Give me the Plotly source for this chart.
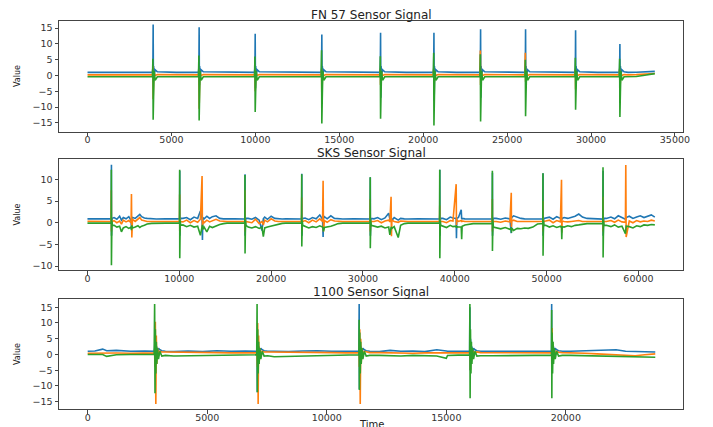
import plotly.graph_objects as go

# ---------------- FN 57 ----------------
fn57_time = [0, 1200, 2500, 3600,
    3870, 3895, 3910, 3925, 3940, 3970, 4030, 4160, 5300,
    6610, 6635, 6650, 6665, 6680, 6710, 6770, 6900, 8300,
    9950, 9975, 9990, 10005, 10020, 10050, 10110, 10240, 12000,
    13920, 13945, 13960, 13975, 13990, 14020, 14080, 14210, 15700,
    17420, 17445, 17460, 17475, 17490, 17520, 17580, 17710, 19000,
    20600, 20625, 20640, 20655, 20670, 20700, 20760, 20890, 22000,
    23380, 23405, 23420, 23435, 23450, 23480, 23540, 23670, 24800,
    26060, 26085, 26100, 26115, 26130, 26160, 26220, 26350, 27600,
    29040, 29065, 29080, 29095, 29110, 29140, 29200, 29330, 30400,
    31680, 31705, 31720, 31735, 31750, 31780, 31840, 31970,
    32200, 32700, 33200, 33800]
fn57_blue = [1.0, 0.95, 1.05, 1.0,
    1.0, 2.5, 16.1, -2.0, 3.0, 0.3, 1.8, 1.2, 1.0,
    1.0, 2.5, 15.3, -3.0, 3.0, 0.3, 1.8, 1.2, 1.0,
    1.0, 2.5, 13.2, -4.0, 3.0, 0.3, 1.8, 1.2, 1.0,
    1.0, 2.5, 13.0, -3.0, 3.0, 0.3, 1.8, 1.2, 1.0,
    1.0, 2.5, 13.5, -7.0, 3.0, 0.3, 1.8, 1.2, 1.0,
    1.0, 2.5, 13.5, -8.0, 3.0, 0.3, 1.8, 1.2, 1.0,
    1.0, 2.5, 14.6, -7.0, 3.0, 0.3, 1.8, 1.2, 1.0,
    1.0, 2.5, 14.6, -3.0, 3.0, 0.3, 1.8, 1.2, 1.0,
    1.0, 2.5, 14.3, -3.0, 3.0, 0.3, 1.8, 1.2, 1.0,
    1.0, 2.5, 10.0, -5.0, 3.0, 0.3, 1.8, 1.2,
    1.0, 1.05, 1.1, 1.3]
fn57_orange = [0.2, 0.25, 0.2, 0.2,
    0.2, 3.0, -7.5, 1.8, -1.5, 0.9, 0.0, 0.3, 0.2,
    0.2, 2.0, -10.5, 1.2, -2.0, 0.9, 0.0, 0.3, 0.2,
    0.2, 2.0, -5.0, 1.2, -1.5, 0.9, 0.0, 0.3, 0.2,
    0.2, 2.0, -7.0, 1.2, -1.5, 0.9, 0.0, 0.3, 0.2,
    0.2, 2.0, -3.0, 1.2, -1.5, 0.9, 0.0, 0.3, 0.2,
    0.2, 2.0, -3.0, 1.2, -1.5, 0.9, 0.0, 0.3, 0.2,
    0.2, 7.9, -3.0, 4.7, -1.5, 0.9, 0.0, 0.3, 0.2,
    0.2, 7.2, -2.0, 4.3, -1.5, 0.9, 0.0, 0.3, 0.2,
    0.2, 2.0, -4.4, 1.2, -1.5, 0.9, 0.0, 0.3, 0.2,
    0.2, 2.0, -5.0, 1.2, -1.5, 0.9, 0.0, 0.3,
    0.2, 0.3, 0.45, 0.65]
fn57_green = [-0.4, -0.45, -0.4, -0.4,
    -0.4, 5.3, -14.0, 3.7, -5.6, 1.5, -1.5, -0.4, -0.4,
    -0.4, 6.3, -14.2, 4.4, -5.7, 1.5, -1.5, -0.4, -0.4,
    -0.4, 6.0, -11.5, 4.2, -4.6, 1.5, -1.5, -0.4, -0.4,
    -0.4, 8.0, -15.2, 5.6, -6.1, 1.5, -1.5, -0.4, -0.4,
    -0.4, 6.1, -13.7, 4.3, -5.5, 1.5, -1.5, -0.4, -0.4,
    -0.4, 7.2, -15.8, 5.0, -6.3, 1.5, -1.5, -0.4, -0.4,
    -0.4, 6.7, -14.5, 4.7, -5.8, 1.5, -1.5, -0.4, -0.4,
    -0.4, 5.0, -12.9, 3.5, -5.2, 1.5, -1.5, -0.4, -0.4,
    -0.4, 5.6, -10.8, 3.9, -4.3, 1.5, -1.5, -0.4, -0.4,
    -0.4, 5.3, -13.1, 3.7, -5.2, 1.5, -1.5, -0.4,
    -0.4, -0.3, 0.1, 0.6]

# ---------------- SKS ----------------
sks_time = [0, 800, 1600, 2400, 2580,
    2600, 2610, 2620, 2635, 2660, 2710,
    2900, 3200, 3500, 3700, 3900, 4200, 4500, 4750, 4790, 4830, 4900, 5200, 5500, 5700, 5900, 6200, 6500, 7000, 7500,
    8500, 9500, 10020,
    10040, 10050, 10060, 10075, 10100, 10150,
    10400, 10800, 11200, 11600, 12000, 12300, 12480, 12520, 12560, 12700, 13000, 13300, 13600, 14000, 14400, 14800, 15200,
    16000, 17130,
    17150, 17160, 17170, 17185, 17210, 17260,
    17500, 17900, 18300, 18700, 19000, 19150, 19300, 19600, 20000, 20400, 20800, 21200, 21600,
    22500, 23310,
    23330, 23340, 23350, 23365, 23390, 23440,
    23700, 24100, 24500, 24900, 25300, 25600, 25660, 25700, 25800, 26100, 26500, 26900, 27300, 27800,
    29000, 30770,
    30790, 30800, 30810, 30825, 30850, 30900,
    31200, 31600, 32000, 32400, 32800, 32930, 33060, 33100, 33150, 33400, 33840, 34100, 34500, 34900,
    36000, 37500, 38340,
    38360, 38370, 38380, 38395, 38420, 38470,
    38700, 39100, 39500, 39800, 40150, 40180, 40220, 40400, 40700, 40750, 40800, 41100, 41500, 42000,
    43000, 44070,
    44090, 44100, 44110, 44125, 44150, 44200,
    44500, 45000, 45500, 46000, 46150, 46170, 46200, 46400, 46800, 47200, 47600, 48000, 48500, 49000, 49580,
    49600, 49610, 49620, 49635, 49660, 49710,
    49900, 50300, 50700, 51100, 51500, 51620, 51650, 51690, 51900, 52300, 52700, 53100, 53500, 53900, 54400, 55000,
    56120,
    56140, 56150, 56160, 56175, 56200, 56250,
    56500, 57000, 57400, 57800, 58200, 58580, 58620, 58660, 59000, 59400, 59800, 60200, 60600, 61000, 61400, 61780]
sks_blue = [0.9, 0.85, 0.9, 0.85, 0.9,
    2.0, 13.4, -3.0, 1.5, 0.5, 1.0,
    1.2, 0.8, 1.5, 0.6, 1.2, 0.9, 1.4, 0.5, -1.5, 1.0, 1.2, 1.0, 1.6, 1.9, 1.4, 1.1, 1.0, 0.9, 0.85,
    0.9, 0.85, 0.9,
    2.0, 12.0, -3.0, 1.5, 0.5, 1.0,
    1.0, 1.2, 0.7, 1.3, 1.0, 2.7, 1.0, -4.0, 1.2, 0.9, 1.5, 1.0, 1.4, 1.6, 1.0, 0.9, 0.85,
    0.9, 0.85,
    2.0, 11.2, -3.0, 1.5, 0.5, 1.0,
    1.0, 0.8, 1.2, 0.6, -1.8, 0.9, 1.3, 0.8, 1.5, 1.0, 0.9, 0.85, 0.9,
    0.9, 0.85,
    2.0, 11.3, -3.0, 1.5, 0.5, 1.0,
    1.1, 0.7, 1.2, 0.9, 1.8, 0.8, -3.3, 1.0, 1.4, 0.9, 1.6, 1.0, 0.9, 0.85,
    0.9, 0.85,
    2.0, 10.5, -3.0, 1.5, 0.5, 1.0,
    0.9, 1.2, 0.7, 1.1, 2.2, 0.8, 1.0, 1.0, 0.5, 1.2, 0.6, 1.0, 0.9, 0.85,
    0.9, 0.9, 0.85,
    2.0, 12.2, -3.0, 1.5, 0.5, 1.0,
    1.0, 0.7, 1.3, 1.1, 1.0, -3.6, 1.0, 1.2, 3.0, 0.8, 1.0, 0.9, 0.9, 0.85,
    0.9, 0.85,
    2.0, 11.5, -3.0, 1.5, 0.5, 1.0,
    1.0, 0.8, 1.1, 0.9, -2.4, 1.0, 1.2, 1.6, 1.3, 1.0, 0.9, 0.85, 0.9, 0.85, 0.9,
    2.0, 11.4, -3.0, 1.5, 0.5, 1.0,
    1.1, 1.3, 0.8, 1.4, 1.0, 0.9, 0.8, 1.0, 1.2, 1.0, 1.3, 1.5, 2.0, 1.3, 1.0, 0.9,
    0.85,
    2.0, 12.0, -3.0, 1.5, 0.5, 1.0,
    1.0, 1.3, 0.9, 1.6, 1.1, 0.8, 0.9, 1.2, 1.5, 1.0, 1.3, 1.6, 1.2, 1.5, 1.8, 1.3]
sks_orange = [0.35, 0.3, 0.35, 0.3, 0.3,
    7.5, -2.0, 2.0, -1.0, 0.5, 0.3,
    0.5, 0.0, 0.4, -0.3, 0.6, 0.2, 0.5, 0.0, 6.6, -3.4, 0.8, 0.3, 0.8, 1.2, 0.6, 0.4, 0.3, 0.3, 0.3,
    0.3, 0.35, 0.3,
    6.5, -2.0, 2.0, -1.0, 0.5, 0.3,
    0.2, 0.6, 0.0, 0.5, 0.1, 0.8, 10.8, -1.5, 0.5, 0.0, 0.6, 0.2, 0.5, 0.8, 0.4, 0.3, 0.3,
    0.3, 0.3,
    7.5, -2.0, 2.0, -1.0, 0.5, 0.3,
    0.2, 0.0, 0.8, -0.2, 0.3, -0.5, 0.6, 0.2, 0.9, 0.4, 0.3, 0.3, 0.3,
    0.3, 0.3,
    5.8, -2.0, 2.0, -1.0, 0.5, 0.3,
    0.5, 0.0, 0.6, 0.2, 0.9, 0.3, 9.7, -2.0, 0.5, 0.1, 0.7, 0.4, 0.3, 0.3,
    0.3, 0.3,
    5.5, -2.0, 2.0, -1.0, 0.5, 0.3,
    0.3, 0.5, 0.0, 0.4, 0.6, 0.2, 6.0, -3.1, 0.6, 0.3, 0.1, 0.4, 0.3, 0.3,
    0.3, 0.3, 0.3,
    4.0, -2.0, 2.0, -1.0, 0.5, 0.3,
    0.3, 0.0, 0.5, 0.4, 8.9, -0.5, 0.6, 0.3, 0.5, 0.2, 0.4, 0.3, 0.3, 0.3,
    0.3, 0.3,
    5.5, -2.0, 2.0, -1.0, 0.5, 0.3,
    0.3, 0.1, 0.4, 0.2, 6.9, -1.0, 0.4, 0.6, 0.3, 0.3, 0.3, 0.3, 0.3, 0.3, 0.3,
    5.0, -2.0, 2.0, -1.0, 0.5, 0.3,
    0.4, 0.6, 0.0, 0.5, 0.2, 9.9, -2.3, 0.4, 0.3, 0.2, 0.3, 0.4, 0.5, 0.3, 0.3, 0.3,
    0.3,
    6.0, -2.0, 2.0, -1.0, 0.5, 0.3,
    0.3, 0.5, 0.1, 0.6, 0.2, 0.1, 13.3, -3.3, 0.4, 0.0, 0.5, 0.2, 0.4, 0.3, 0.6, 0.4]
sks_green = [-0.1, -0.15, -0.1, -0.1, -0.1,
    12.2, -9.8, 3.0, -2.0, 0.5, -0.6,
    -0.6, -1.0, -0.8, -2.1, -1.2, -0.9, -1.3, -1.0, -1.7, -0.6, -1.2, -1.0, -0.7, -1.1, -0.8, -0.6, -0.3, -0.15, -0.1,
    -0.1, -0.1, -0.1,
    12.2, -8.2, 3.0, -2.0, 0.5, -0.6,
    -0.5, -0.9, -0.6, -1.0, -0.8, -2.9, -1.0, -0.5, -1.5, -1.0, -2.1, -0.8, -1.1, -0.7, -0.4, -0.2, -0.1,
    -0.1, -0.1,
    11.0, -7.1, 3.0, -2.0, 0.5, -0.6,
    -1.0, -1.2, -0.9, -1.3, -1.0, -3.2, -1.2, -1.0, -0.8, -0.5, -0.3, -0.15, -0.1,
    -0.1, -0.1,
    11.2, -5.5, 3.0, -2.0, 0.5, -0.6,
    -0.8, -1.2, -0.9, -1.1, -0.7, -1.0, -1.3, -2.0, -1.1, -1.0, -0.8, -0.5, -0.2, -0.1,
    -0.1, -0.1,
    10.5, -5.9, 3.0, -2.0, 0.5, -0.6,
    -0.7, -1.0, -0.8, -1.2, -1.0, -2.8, -1.1, -1.0, -1.3, -0.9, -3.4, -0.6, -0.2, -0.1,
    -0.1, -0.1, -0.1,
    12.2, -8.2, 3.0, -2.0, 0.5, -0.6,
    -0.8, -1.1, -0.6, -0.9, -0.8, -1.2, -0.9, -1.0, -1.0, -3.8, -0.8, -0.5, -0.3, -0.2,
    -0.2, -0.2,
    12.0, -6.5, 3.0, -2.0, 0.5, -1.0,
    -1.2, -1.4, -1.1, -1.5, -1.3, -2.3, -1.2, -1.8, -1.3, -1.4, -1.2, -1.3, -1.0, -0.3, -0.2,
    11.4, -7.6, 3.0, -2.0, 0.5, -0.6,
    -0.6, -1.0, -0.7, -1.1, -0.8, -1.2, -3.8, -0.9, -1.0, -0.7, -0.9, -0.6, -0.5, -0.3, -0.2, -0.2,
    -0.2,
    12.8, -8.0, 3.0, -2.0, 0.5, -0.6,
    -0.6, -0.9, -0.5, -1.0, -0.8, -2.5, -1.0, -0.8, -0.9, -1.2, -0.7, -0.9, -0.5, -0.6, -0.4, -0.5]

# ---------------- 1100 ----------------
s1100_time = [0, 300, 627, 795, 1200, 1800, 2400,
    2780, 2800, 2816, 2830, 2850, 2870, 2890, 2920, 2960, 3020, 3100, 3250,
    3600, 4200, 4800, 5400, 6000, 6600, 7050,
    7070, 7085, 7096, 7110, 7130, 7150, 7170, 7200, 7240, 7300, 7380, 7530,
    7800, 8400, 9000, 9600, 10200, 10800, 11330,
    11345, 11355, 11365, 11380, 11400, 11420, 11440, 11470, 11510, 11570, 11650, 11800,
    12200, 12650, 13100, 13600, 14100, 14600, 15000, 15050, 15500, 15960,
    15976, 15986, 15996, 16010, 16030, 16050, 16070, 16100, 16140, 16200, 16280, 16430,
    16900, 17500, 18100, 18700, 19390,
    19400, 19407, 19414, 19425, 19445, 19465, 19485, 19515, 19555, 19615, 19695, 19850,
    20200, 20800, 21300, 21700, 22100, 22500, 22900, 23300, 23740]
s1100_blue = [1.0, 1.1, 1.7, 1.2, 1.3, 1.0, 1.1,
    1.0, 2.0, 5.0, -3.0, 3.0, -1.0, 2.5, 0.5, 2.0, 1.5, 1.2, 1.0,
    0.9, 1.1, 0.9, 1.2, 1.0, 1.1, 1.0,
    1.0, 2.0, -12.0, 5.0, 3.0, -1.0, 2.5, 0.5, 2.0, 1.5, 1.2, 1.0,
    1.0, 0.9, 1.1, 1.2, 1.0, 1.1, 1.0,
    1.0, 16.0, -11.0, 5.0, 3.0, -1.0, 2.5, 0.5, 2.0, 1.5, 1.2, 1.0,
    0.9, 1.3, 1.0, 1.1, 0.9, 1.5, 1.1, 1.0, 1.0, 1.0,
    1.0, 15.0, -5.0, 5.0, 3.0, -1.0, 2.5, 0.5, 2.0, 1.5, 1.2, 1.0,
    1.0, 1.1, 1.0, 1.0, 1.0,
    1.0, 16.0, -5.0, 5.0, 3.0, -1.0, 2.5, 0.5, 2.0, 1.5, 1.2, 1.0,
    1.0, 1.1, 1.4, 1.3, 1.5, 1.0, 0.9, 0.9, 0.8]
s1100_orange = [0.4, 0.45, 0.4, 0.4, 0.45, 0.4, 0.4,
    0.4, 0.5, -4.0, 10.4, -15.7, 6.0, -3.0, 2.0, 0.0, 1.0, 0.8, 0.8,
    0.8, 0.7, 0.6, 0.6, 0.5, 0.5, 0.5,
    0.5, 0.5, -4.0, 10.0, -15.7, 6.0, -3.0, 2.0, 0.0, 1.0, 0.8, 0.8,
    0.8, 0.7, 0.6, 0.6, 0.6, 0.5, 0.5,
    0.5, 0.5, -4.0, 8.0, -15.7, 5.0, -3.0, 2.0, 0.0, 1.0, 0.8, 0.6,
    0.6, 0.5, 0.5, 0.4, 0.5, 0.5, 0.4, 0.4, 0.5, 0.5,
    0.5, 0.5, 6.9, -5.0, 3.0, -2.0, 1.5, 0.0, 1.0, 0.5, 0.8, 0.6,
    0.6, 0.6, 0.5, 0.5, 0.5,
    0.5, 0.5, -4.3, 8.4, -3.0, 3.0, -1.5, 1.5, 0.0, 1.0, 0.7, 0.6,
    0.6, 0.4, 0.2, 0.0, -0.1, -0.4, -0.4, -0.1, 0.2]
s1100_green = [0.0, 0.05, 0.0, -0.6, -0.1, 0.0, 0.0,
    0.0, 16.0, -12.3, 8.0, -6.0, 4.0, -3.0, 2.0, -1.5, 1.0, -0.5, -0.3,
    -0.5, -0.4, -0.3, -0.2, -0.2, -0.1, -0.1,
    -0.1, 16.0, -12.0, 8.0, -6.0, 4.0, -3.0, 2.0, -1.5, 1.0, -0.5, -0.4,
    -0.7, -0.6, -0.4, -0.3, -0.2, -0.1, -0.1,
    -0.1, 11.0, -11.3, 7.0, -6.0, 4.0, -3.0, 2.0, -1.5, 1.0, -0.5, -0.3,
    -0.3, -0.4, -0.5, -0.3, -0.4, -0.5, -1.2, -0.3, -0.2, -0.2,
    -0.2, 16.0, -13.9, 8.0, -6.0, 4.0, -3.0, 2.0, -1.5, 1.0, -0.5, -0.4,
    -0.4, -0.3, -0.3, -0.3, -0.3,
    -0.3, 14.1, -13.9, 7.0, -6.0, 4.0, -3.0, 2.0, -1.5, 1.0, -0.5, -0.3,
    -0.3, -0.4, -0.5, -0.5, -0.6, -0.7, -0.8, -0.8, -0.9]

titles = ["FN 57 Sensor Signal", "SKS Sensor Signal", "1100 Sensor Signal"]
colors = ["#1f77b4", "#ff7f0e", "#2ca02c"]

panels = [
    (fn57_time, [fn57_blue, fn57_orange, fn57_green]),
    (sks_time, [sks_blue, sks_orange, sks_green]),
    (s1100_time, [s1100_blue, s1100_orange, s1100_green]),
]

# the page body has an 8px margin, so the figure is placed at (8, 8)
OFF = 8
W, H = 713 - OFF, 427 - OFF

fig = go.Figure()
for i, (t, series) in enumerate(panels):
    for vals, c in zip(series, colors):
        fig.add_trace(go.Scatter(
            x=t, y=vals, mode="lines", line=dict(color=c, width=1.6),
            xaxis="x" if i == 0 else f"x{i+1}",
            yaxis="y" if i == 0 else f"y{i+1}",
            showlegend=False, hoverinfo="skip"))

def px_x(px):
    return (px - OFF) / W

def px_y(py):
    return 1 - (py - OFF) / H

x_dom = [px_x(59), px_x(683)]
y_doms = [[px_y(131.5), px_y(20.5)], [px_y(270), px_y(159)], [px_y(409), px_y(299)]]
x_ranges = [[-1700, 35480], [-3100, 64850], [-1200, 24900]]
y_ranges = [[-17.7, 17.4], [-10.9, 14.7], [-17.3, 17.6]]
x_dticks = [5000, 10000, 5000]
y_dticks = [5, 5, 5]

axfont = dict(family="DejaVu Sans", size=9.5, color="#333333")
common = dict(showline=True, mirror=True, linecolor="#444444", linewidth=1,
              ticks="outside", ticklen=3.5, tickcolor="#444444", showgrid=False,
              zeroline=False, tickfont=axfont, tickmode="linear", tick0=0,
              automargin=False)
layout = {}
for i in range(3):
    sx = "xaxis" if i == 0 else f"xaxis{i+1}"
    sy = "yaxis" if i == 0 else f"yaxis{i+1}"
    ax_id = "x" if i == 0 else f"x{i+1}"
    ay_id = "y" if i == 0 else f"y{i+1}"
    layout[sx] = dict(domain=x_dom, range=x_ranges[i], anchor=ay_id,
                      dtick=x_dticks[i], tickformat="d", ticklabelstandoff=-4, **common)
    layout[sy] = dict(domain=y_doms[i], range=y_ranges[i], anchor=ax_id,
                      dtick=y_dticks[i], **common)

annotations = []
title_y = [15.5, 153, 292]
for i in range(3):
    annotations.append(dict(text=titles[i], x=px_x(371), y=px_y(title_y[i]), xref="paper", yref="paper",
                            showarrow=False, xanchor="center", yanchor="middle",
                            font=dict(family="DejaVu Sans", size=12, color="#222222")))
    yc = (y_doms[i][0] + y_doms[i][1]) / 2
    annotations.append(dict(text="Value", x=px_x(17), y=yc, xref="paper", yref="paper",
                            showarrow=False, textangle=-90, xanchor="center", yanchor="middle",
                            font=dict(family="DejaVu Sans", size=8, color="#222222")))
annotations.append(dict(text="Time", x=px_x(371), y=px_y(424), xref="paper", yref="paper",
                        showarrow=False, xanchor="center", yanchor="middle",
                        font=dict(family="DejaVu Sans", size=10, color="#222222")))

fig.update_layout(width=W, height=H, margin=dict(l=0, r=0, t=0, b=0),
                  paper_bgcolor="white", plot_bgcolor="white",
                  annotations=annotations, **layout)
fig.write_html("out.html")
